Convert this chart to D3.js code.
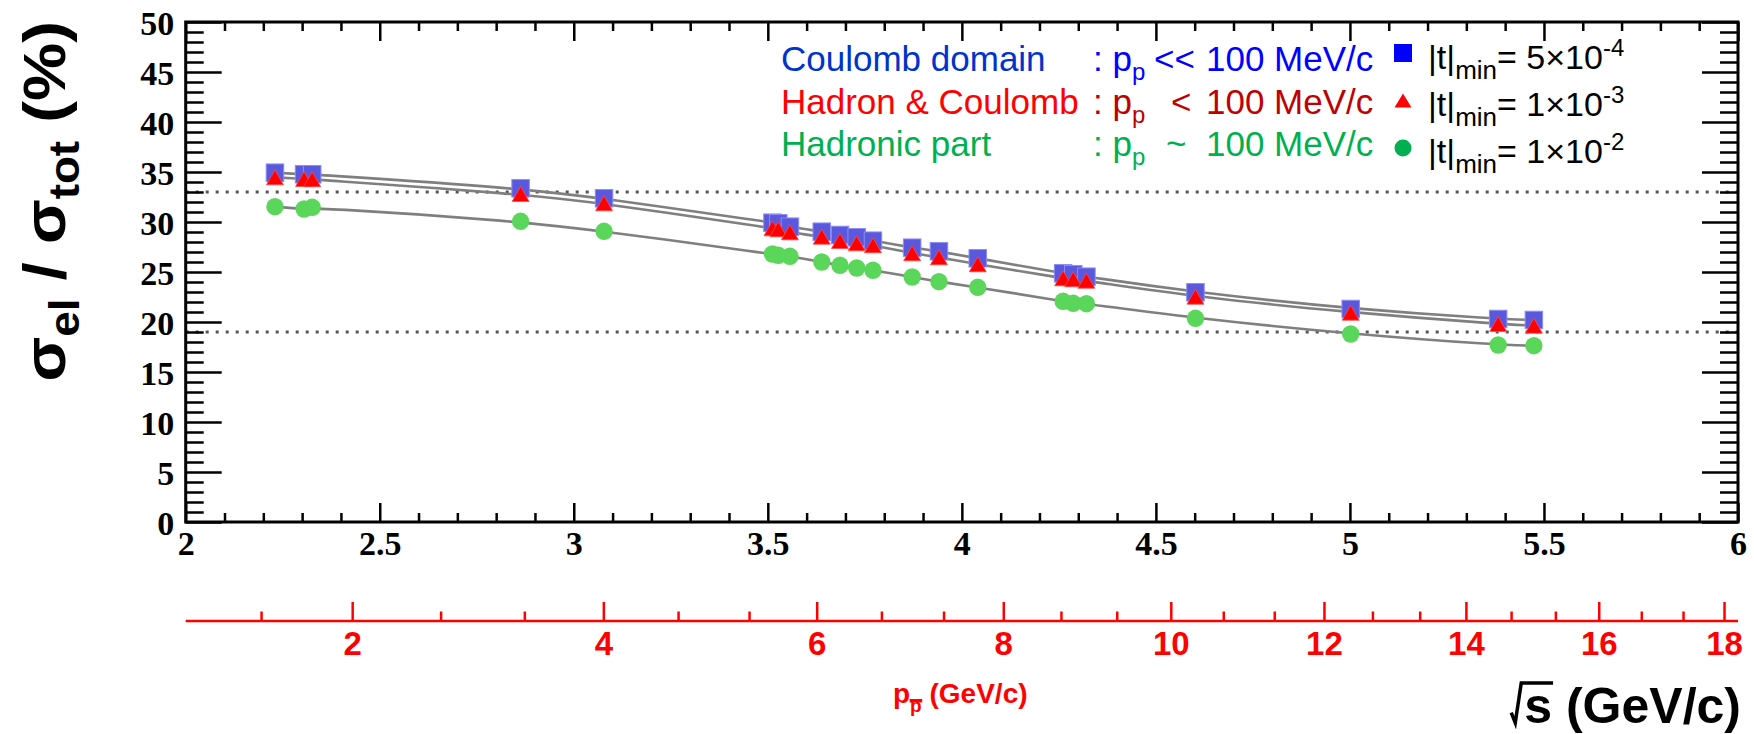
<!DOCTYPE html>
<html><head><meta charset="utf-8">
<script src="https://cdn.jsdelivr.net/npm/d3@7"></script>
<style>body{margin:0;background:#fff;overflow:hidden}</style>
</head><body><svg id="c" width="1754" height="734"></svg>
<script>
// ---------------- data ----------------
const sqrtS = [2.230,2.305,2.326,2.863,3.078,3.512,3.527,3.557,3.639,3.686,3.729,3.771,3.872,3.941,4.041,4.261,4.287,4.321,4.602,5.002,5.382,5.474];
const ratioT5e4 = [34.93,34.77,34.77,33.37,32.37,29.93,29.87,29.53,29.03,28.70,28.47,28.13,27.43,27.07,26.37,24.87,24.77,24.53,22.97,21.30,20.30,20.20];
const ratioT1e3 = [34.47,34.30,34.27,32.80,31.87,29.37,29.27,28.97,28.53,28.10,27.87,27.67,26.87,26.47,25.77,24.37,24.27,24.13,22.53,20.93,19.80,19.63];
const ratioT1e2 = [31.53,31.30,31.47,30.07,29.07,26.80,26.67,26.57,26.00,25.67,25.40,25.17,24.50,24.03,23.47,22.07,21.87,21.83,20.37,18.80,17.70,17.63];
const refLines = [33, 19];
const xMajor = [2,2.5,3,3.5,4,4.5,5,5.5,6];
const xTickLabels = ["2","2.5","3","3.5","4","4.5","5","5.5","6"];
const yMajor = [0,5,10,15,20,25,30,35,40,45,50];
const yTickLabels = ["0","5","10","15","20","25","30","35","40","45","50"];
const pMajor = [2,4,6,8,10,12,14,16,18];
const pTickLabels = ["2","4","6","8","10","12","14","16","18"];
const mProton = 0.938272;

// ---------------- setup ----------------
const svg = d3.select("#c");
const x = d3.scaleLinear().domain([2,6]).range([185.7,1738]);
const y = d3.scaleLinear().domain([0,50]).range([522,22]);
const sqrtSfromP = p => Math.sqrt(2*mProton*mProton + 2*mProton*Math.sqrt(p*p+mProton*mProton));
const xp = p => x(sqrtSfromP(p));

const xMinor = d3.range(20,61).map(d=>d/10).filter(d=>Math.abs(d*2-Math.round(d*2))>1e-6);
const yMinor = d3.range(0,51).filter(d=>d%5!==0);
const pMinor = d3.range(1,28).map(k=>k*2/3).filter(p=>Math.abs(p/2-Math.round(p/2))>1e-6 && sqrtSfromP(p)>=2 && sqrtSfromP(p)<=6);

function styleAxis(g, tickW){
  g.selectAll(".domain").remove();
  g.selectAll(".tick line").attr("stroke","#000").attr("stroke-width",tickW);
  g.selectAll("text").attr("font-family","'Liberation Serif','Times New Roman',serif")
    .attr("font-weight","bold").attr("font-size",34).attr("fill","#000");
}

// reference dotted lines
svg.append("g").selectAll("line").data(refLines).join("line")
  .attr("x1",x(2)).attr("x2",x(6)).attr("y1",d=>y(d)).attr("y2",d=>y(d))
  .attr("stroke","#555").attr("stroke-width",3).attr("stroke-dasharray","3,7");

// axes
const gB = svg.append("g").attr("transform",`translate(0,${y(0)})`)
  .call(d3.axisBottom(x).tickValues(xMajor).tickSize(-19).tickPadding(9).tickFormat((d,i)=>xTickLabels[i]));
styleAxis(gB,2.5);
const gBm = svg.append("g").attr("transform",`translate(0,${y(0)})`)
  .call(d3.axisBottom(x).tickValues(xMinor).tickSize(-9).tickFormat(""));
styleAxis(gBm,2.5);
const gT = svg.append("g").attr("transform",`translate(0,${y(50)})`)
  .call(d3.axisTop(x).tickValues(xMajor).tickSize(-19).tickFormat(""));
styleAxis(gT,2.5);
const gTm = svg.append("g").attr("transform",`translate(0,${y(50)})`)
  .call(d3.axisTop(x).tickValues(xMinor).tickSize(-9).tickFormat(""));
styleAxis(gTm,2.5);
const gL = svg.append("g").attr("transform",`translate(${x(2)},0)`)
  .call(d3.axisLeft(y).tickValues(yMajor).tickSize(-36).tickPadding(11.5).tickFormat((d,i)=>yTickLabels[i]));
styleAxis(gL,2.5);
gL.selectAll("text").attr("dy","0.38em");
const gLm = svg.append("g").attr("transform",`translate(${x(2)},0)`)
  .call(d3.axisLeft(y).tickValues(yMinor).tickSize(-18).tickFormat(""));
styleAxis(gLm,2.5);
const gR = svg.append("g").attr("transform",`translate(${x(6)},0)`)
  .call(d3.axisRight(y).tickValues(yMajor).tickSize(-36).tickFormat(""));
styleAxis(gR,2.5);
const gRm = svg.append("g").attr("transform",`translate(${x(6)},0)`)
  .call(d3.axisRight(y).tickValues(yMinor).tickSize(-18).tickFormat(""));
styleAxis(gRm,2.5);
// frame
svg.append("rect").attr("x",x(2)).attr("y",y(50)).attr("width",x(6)-x(2)).attr("height",y(0)-y(50))
  .attr("fill","none").attr("stroke","#000").attr("stroke-width",3);

// secondary red axis (antiproton momentum)
const redY = 621;
const gP = svg.append("g");
gP.append("line").attr("x1",x(2)).attr("x2",x(6)).attr("y1",redY).attr("y2",redY)
  .attr("stroke","#ff0000").attr("stroke-width",2.5);
gP.selectAll("line.maj").data(pMajor).join("line").attr("class","maj")
  .attr("x1",d=>xp(d)).attr("x2",d=>xp(d)).attr("y1",redY).attr("y2",redY-19)
  .attr("stroke","#ff0000").attr("stroke-width",2.5);
gP.selectAll("line.min").data(pMinor).join("line").attr("class","min")
  .attr("x1",d=>xp(d)).attr("x2",d=>xp(d)).attr("y1",redY).attr("y2",redY-9.5)
  .attr("stroke","#ff0000").attr("stroke-width",2.5);
gP.selectAll("text").data(pMajor).join("text")
  .attr("x",d=>xp(d)).attr("y",655).attr("text-anchor","middle")
  .attr("font-family","'Liberation Sans',Arial,sans-serif").attr("font-weight","bold")
  .attr("font-size",33).attr("fill","#ff0000").text((d,i)=>pTickLabels[i]);

// red axis title
const pt = svg.append("text").attr("x",893).attr("y",703)
  .attr("font-family","'Liberation Sans',Arial,sans-serif").attr("font-weight","bold")
  .attr("font-size",28).attr("fill","#ff0000");
pt.append("tspan").text("p");
pt.append("tspan").attr("font-size",19).attr("dy",9).text("p");
pt.append("tspan").attr("dy",-9).text(" (GeV/c)");
{
  const e = pt.node().getExtentOfChar(1);
  svg.append("rect").attr("x",e.x-0.5).attr("y",e.y+4).attr("width",e.width+1).attr("height",3.5).attr("fill","#ff0000");
}

// x title
const st = svg.append("text").attr("x",1741).attr("y",723).attr("text-anchor","end")
  .attr("font-family","'Liberation Sans',Arial,sans-serif").attr("font-weight","bold")
  .attr("font-size",50).attr("fill","#000").text("s (GeV/c)");
{
  const e = st.node().getExtentOfChar(0);
  const top = 683;
  svg.append("path").attr("d",`M${e.x-13},${e.y+e.height*0.62} L${e.x-9},${e.y+e.height*0.8} L${e.x-3},${top} L${e.x+e.width+1},${top}`)
    .attr("fill","none").attr("stroke","#000").attr("stroke-width",3.5).attr("stroke-linejoin","miter");
}

// y title
const yt = svg.append("text").attr("transform","translate(65,21) rotate(-90) scale(1.09,1)").attr("text-anchor","end")
  .attr("font-family","'Liberation Sans',Arial,sans-serif").attr("font-weight","bold")
  .attr("font-size",60).attr("fill","#000");
yt.append("tspan").text("σ");
yt.append("tspan").attr("font-size",42).attr("dy",14).text("el");
yt.append("tspan").attr("dy",-14).text("  /  σ");
yt.append("tspan").attr("font-size",42).attr("dy",14).text("tot");
yt.append("tspan").attr("dy",-14).text(" (%)");

// curves
const lineGen = vals => d3.line().x((d,i)=>x(sqrtS[i])).y(d=>y(d)).curve(d3.curveBasis)(vals);
[ratioT5e4, ratioT1e3, ratioT1e2].forEach(v=>{
  svg.append("path").attr("d",lineGen(v)).attr("fill","none").attr("stroke","#7f7f7f").attr("stroke-width",2.6);
});

// markers
const S = 17.5;
svg.append("g").selectAll("rect").data(ratioT5e4).join("rect")
  .attr("x",(d,i)=>x(sqrtS[i])-S/2).attr("y",d=>y(d)-S/2).attr("width",S).attr("height",S)
  .attr("fill","#5a58dc").attr("stroke","#8c8cf2").attr("stroke-width",1);
const tri = (cx,cy,w,h)=>`M${cx-w/2},${cy+h/2} L${cx+w/2},${cy+h/2} L${cx},${cy-h/2} Z`;
svg.append("g").selectAll("path").data(ratioT1e3).join("path")
  .attr("d",(d,i)=>tri(x(sqrtS[i]),y(d),17,15)).attr("fill","#ff0000").attr("stroke","#ff4a4a").attr("stroke-width",0.8);
svg.append("g").selectAll("circle").data(ratioT1e2).join("circle")
  .attr("cx",(d,i)=>x(sqrtS[i])).attr("cy",d=>y(d)).attr("r",8.7).attr("fill","#5ad65a");

// left legend
const legFont = "'Liberation Sans',Arial,sans-serif";
const legRows = [
  {name:"Coulomb domain", c1:"#0033cc", c2:"#0000ff", op:"<<", opx:1154, y:71},
  {name:"Hadron & Coulomb", c1:"#ff0000", c2:"#c00000", op:"<", opx:1171, y:113.5},
  {name:"Hadronic part", c1:"#00b050", c2:"#00b050", op:"~", opx:1166, y:156}
];
legRows.forEach(r=>{
  const t = svg.append("text").attr("y",r.y).attr("font-family",legFont).attr("font-size",35);
  t.append("tspan").attr("x",781).attr("fill",r.c1).text(r.name);
  t.append("tspan").attr("x",1093).attr("fill",r.c2).text(": p");
  t.append("tspan").attr("fill",r.c2).attr("font-size",24).attr("dy",9).text("p");
  t.append("tspan").attr("fill",r.c2).attr("x",r.opx).attr("dy",-9).text(r.op);
  t.append("tspan").attr("fill",r.c2).attr("x",1206).text("100 MeV/c");
});

// right legend
const rRows = [
  {mant:"5", exp:"-4", y:69, my:53, kind:"sq"},
  {mant:"1", exp:"-3", y:116, my:100.5, kind:"tri"},
  {mant:"1", exp:"-2", y:163, my:148, kind:"circ"}
];
rRows.forEach(r=>{
  if(r.kind==="sq") svg.append("rect").attr("x",1394).attr("y",r.my-9).attr("width",18).attr("height",18).attr("fill","#0000ff");
  if(r.kind==="tri") svg.append("path").attr("d",tri(1403,r.my,17,14)).attr("fill","#ff0000");
  if(r.kind==="circ") svg.append("circle").attr("cx",1403).attr("cy",r.my).attr("r",8.5).attr("fill","#00b050");
  const t = svg.append("text").attr("x",1428).attr("y",r.y).attr("font-family",legFont).attr("font-size",34).attr("fill","#000");
  t.append("tspan").text("|t|");
  t.append("tspan").attr("font-size",26).attr("dy",10).text("min");
  t.append("tspan").attr("dy",-10).text("= "+r.mant+"×10");
  t.append("tspan").attr("font-size",24).attr("dy",-13).text(r.exp);
});
</script></body></html>
